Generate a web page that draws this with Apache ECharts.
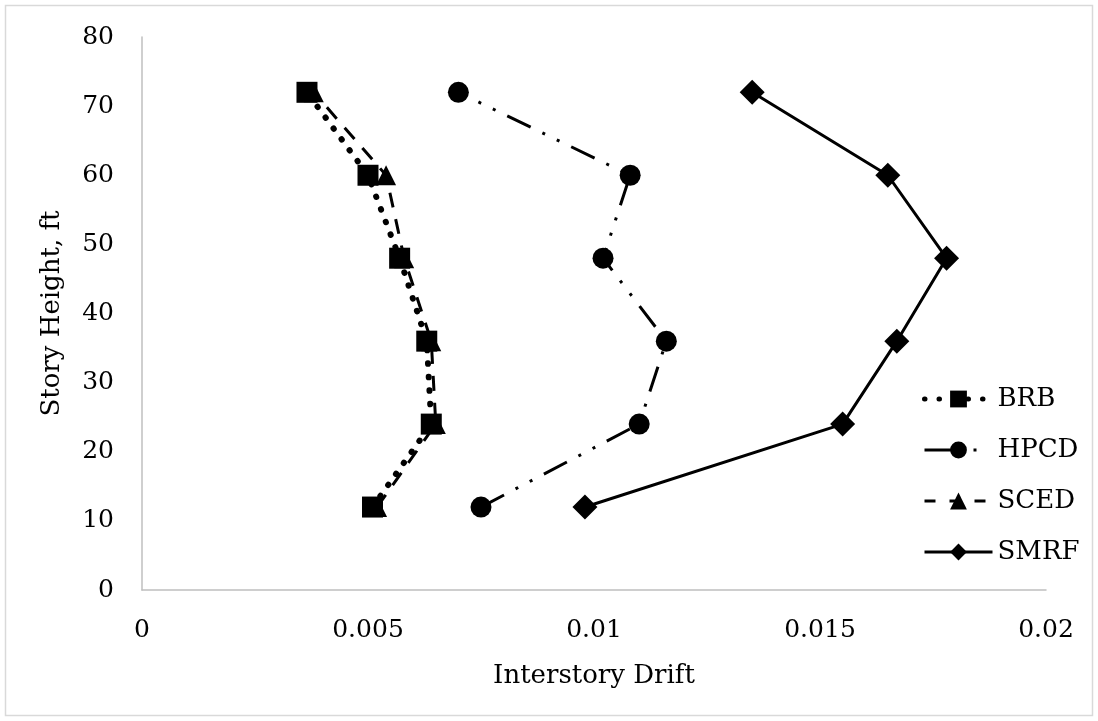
<!DOCTYPE html>
<html>
<head>
<meta charset="utf-8">
<script src="https://cdn.jsdelivr.net/npm/echarts@6/dist/echarts.min.js"></script>
<style>
html,body{margin:0;padding:0;background:#fff;}
#chart{width:1098px;height:721px;}
</style>
</head>
<body>
<div id="chart"></div>
<script>
var heights = [12, 24, 36, 48, 60, 72];
var brb  = [0.0051, 0.0064, 0.0063, 0.0057, 0.0050, 0.00365];
var hpcd = [0.0075, 0.0110, 0.0116, 0.0102, 0.0108, 0.0070];
var sced = [0.0052, 0.0065, 0.0064, 0.0058, 0.0054, 0.0038];
var smrf = [0.0098, 0.0155, 0.0167, 0.0178, 0.0165, 0.0135];
var seriesNames = ['BRB', 'HPCD', 'SCED', 'SMRF'];
var xTicks = [0, 0.005, 0.01, 0.015, 0.02];
var yTicks = [0, 10, 20, 30, 40, 50, 60, 70, 80];

function pairs(xs){ return xs.map(function(v,i){ return [v, heights[i]]; }); }

var FONT = 'DejaVu Serif';
var FS = 26;
var styles = {
  BRB:  {width:6, type:[0.5,13], cap:'round'},
  HPCD: {width:3, type:[26,13,3,13,3,13], cap:'butt'},
  SCED: {width:3, type:[15,12], cap:'butt'},
  SMRF: {width:3, type:'solid', cap:'butt'}
};
var legendStyles = {
  BRB:  {width:5, type:[0.5,14], cap:'round'},
  HPCD: {width:3, type:[30,6,3,10,3,40], cap:'butt'},
  SCED: {width:3, type:[11,14], cap:'butt'},
  SMRF: {width:3, type:'solid', cap:'butt'}
};
var chart = echarts.init(document.getElementById('chart'), null, {renderer:'canvas'});
chart.setOption({
  animation:false,
  backgroundColor:'#fff',
  textStyle:{fontFamily:FONT, color:'#000'},
  graphic:[{type:'rect', shape:{x:5.5,y:5.5,width:1087,height:710}, style:{fill:'none', stroke:'#d9d9d9', lineWidth:1.5}, silent:true}],
  grid:{left:142, right:52, top:37, bottom:131},
  legend:{
    orient:'vertical', left:917, top:381,
    itemWidth:68, itemHeight:21, itemGap:25,
    textStyle:{fontFamily:FONT, fontSize:FS, color:'#000'},
    data:seriesNames.map(function(n){
      var s = legendStyles[n];
      return {name:n, lineStyle:{color:'#000', width:s.width, type:s.type, cap:s.cap}};
    })
  },
  xAxis:{
    type:'value', min:xTicks[0], max:xTicks[xTicks.length-1], interval:0.005,
    name:'Interstory Drift', nameLocation:'middle', nameGap:73,
    nameTextStyle:{fontFamily:FONT, fontSize:FS, color:'#000'},
    axisLine:{show:true, lineStyle:{color:'#bfbfbf', width:1.5}},
    axisTick:{show:false}, splitLine:{show:false},
    axisLabel:{fontFamily:FONT, fontSize:25, color:'#000', margin:28,
      formatter:function(v){ return String(parseFloat(v.toFixed(4))); }}
  },
  yAxis:{
    type:'value', min:yTicks[0], max:yTicks[yTicks.length-1], interval:10,
    name:'Story Height, ft', nameLocation:'middle', nameGap:77, nameRotate:90,
    nameTextStyle:{fontFamily:FONT, fontSize:FS, color:'#000'},
    axisLine:{show:true, lineStyle:{color:'#bfbfbf', width:1.5}},
    axisTick:{show:false}, splitLine:{show:false},
    axisLabel:{fontFamily:FONT, fontSize:25, color:'#000', margin:28}
  },
  series:[
    {name:'BRB', type:'line', data:pairs(brb), z:5, symbol:'rect', symbolSize:21,
      itemStyle:{color:'#000'},
      lineStyle:{color:'#000', width:styles.BRB.width, type:styles.BRB.type, cap:styles.BRB.cap}},
    {name:'HPCD', type:'line', data:pairs(hpcd), z:3, symbol:'circle', symbolSize:21,
      itemStyle:{color:'#000'},
      lineStyle:{color:'#000', width:styles.HPCD.width, type:styles.HPCD.type}},
    {name:'SCED', type:'line', data:pairs(sced), z:2, symbol:'triangle', symbolSize:20,
      itemStyle:{color:'#000'},
      lineStyle:{color:'#000', width:styles.SCED.width, type:styles.SCED.type}},
    {name:'SMRF', type:'line', data:pairs(smrf), z:3, symbol:'diamond', symbolSize:25,
      itemStyle:{color:'#000'},
      lineStyle:{color:'#000', width:styles.SMRF.width, type:'solid'}}
  ]
});
</script>
</body>
</html>
